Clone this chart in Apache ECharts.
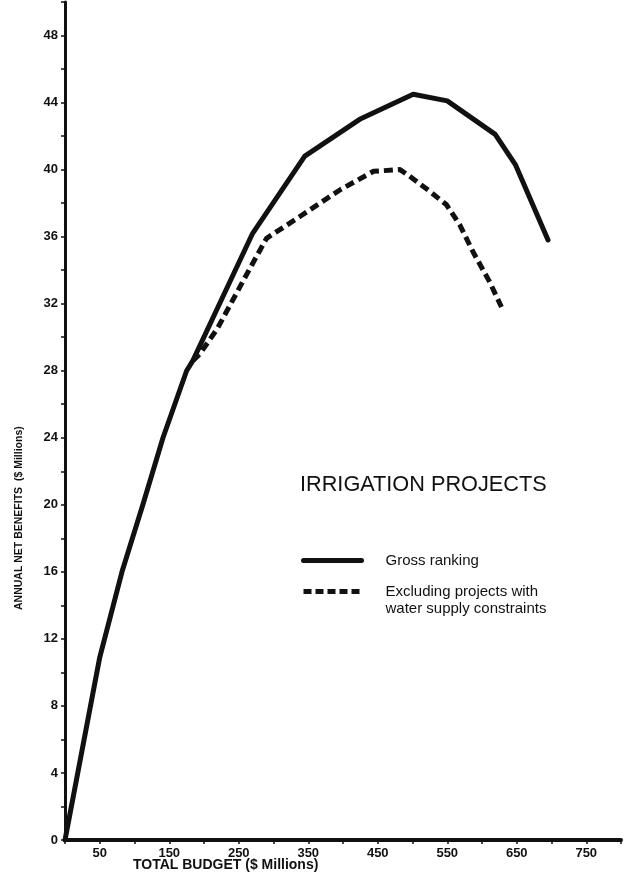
<!DOCTYPE html>
<html>
<head>
<meta charset="utf-8">
<title>Irrigation Projects</title>
<script src="https://cdn.jsdelivr.net/npm/echarts@6/dist/echarts.min.js"></script>
<style>
  html, body { margin: 0; padding: 0; background: #fff; }
  #chart { width: 629px; height: 883px; }
</style>
</head>
<body>
<div id="chart"></div>
<script>
// budget ($ millions) and annual net benefits ($ millions)
const grossBudget = [0, 50, 82, 112, 141, 175, 184, 219, 270, 345, 424, 501, 550, 619, 648, 695];
const grossBenefit = [0, 10.9, 16, 20, 24, 28, 28.6, 31.7, 36.2, 40.8, 43.0, 44.5, 44.1, 42.1, 40.3, 35.8];

const exclBudget = [184, 194, 219, 266, 290, 338, 396, 444, 482, 496, 525, 549, 568, 587, 611, 628];
const exclBenefit = [28.6, 29, 30.5, 34.1, 35.9, 37.2, 38.8, 39.9, 40.0, 39.6, 38.7, 37.9, 36.7, 35.1, 33.3, 31.8];

const seriesNames = ["Gross ranking", "Excluding projects with water supply constraints"];
const chartTitle = "IRRIGATION PROJECTS";

const ink = "#111";
const font = "'Liberation Sans', Arial, Helvetica, sans-serif";

const pairs = (xs, ys) => xs.map((x, i) => [x, ys[i]]);

const chart = echarts.init(document.getElementById("chart"));

const option = {
    animation: false,
    backgroundColor: "#fff",
    textStyle: { fontFamily: font, color: ink },
    grid: { left: 65, top: 2, width: 556, height: 838 },
    title: {
        text: chartTitle,
        left: 295,
        top: 469,
        textStyle: { fontSize: 21.7, fontWeight: "normal", color: ink, fontFamily: font },
    },
    legend: [
        {
            data: [seriesNames[0]],
            left: 301,
            top: 553,
            padding: 0,
            itemWidth: 58,
            itemHeight: 14,
            itemStyle: { opacity: 0 },
            lineStyle: { width: 5 },
            textStyle: { fontSize: 15, color: ink, padding: [0, 0, 0, 19] },
        },
        {
            data: [seriesNames[1]],
            left: 301,
            top: 566,
            padding: 0,
            itemWidth: 58,
            itemHeight: 14,
            itemStyle: { opacity: 0 },
            lineStyle: { width: 5, type: [8, 4] },
            // leading blank line keeps the first text line level with the dashed icon
            formatter: () => "\nExcluding projects with\nwater supply constraints",
            textStyle: { fontSize: 15, color: ink, lineHeight: 17, padding: [0, 0, 0, 19] },
        },
    ],
    xAxis: {
        type: "value",
        min: 0,
        max: 800,
        interval: 50,
        splitLine: { show: false },
        axisLine: { lineStyle: { color: ink, width: 4 } },
        axisTick: { length: 4, lineStyle: { color: ink, width: 1.5 } },
        axisLabel: {
            fontSize: 13,
            fontWeight: "bold",
            color: ink,
            margin: 7,
            formatter: (v) => (v % 100 === 50 ? String(v) : ""),
        },
    },
    yAxis: {
        type: "value",
        min: 0,
        max: 50,
        interval: 2,
        splitLine: { show: false },
        axisLine: { lineStyle: { color: ink, width: 3 } },
        axisTick: { length: 4, lineStyle: { color: ink, width: 1.5 } },
        axisLabel: {
            fontSize: 13,
            fontWeight: "bold",
            color: ink,
            margin: 7,
            formatter: (v) => (v % 4 === 0 ? String(v) : ""),
        },
    },
    graphic: [
        {
            type: "text",
            left: 133,
            top: 858,
            style: { text: "TOTAL BUDGET ($ Millions)", font: "bold 14px " + font, fill: ink },
        },
        {
            type: "text",
            x: 14,
            y: 610,
            rotation: Math.PI / 2,
            style: { text: "ANNUAL NET BENEFITS  ($ Millions)", font: "bold 10.5px " + font, fill: ink },
        },
    ],
    series: [
        {
            name: seriesNames[0],
            type: "line",
            data: pairs(grossBudget, grossBenefit),
            symbol: "none",
            lineStyle: { color: ink, width: 5, cap: "round", join: "round" },
            itemStyle: { color: ink },
            z: 3,
        },
        {
            name: seriesNames[1],
            type: "line",
            data: pairs(exclBudget, exclBenefit),
            symbol: "none",
            lineStyle: { color: ink, width: 5, type: [9, 5], cap: "butt", join: "round" },
            itemStyle: { color: ink },
            z: 4,
        },
    ],
};

chart.setOption(option);
window.addEventListener("resize", () => chart.resize());
</script>
</body>
</html>
